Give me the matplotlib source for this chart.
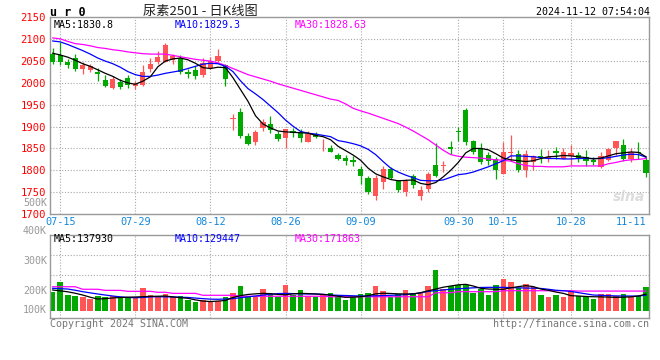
import matplotlib
matplotlib.use("Agg")
import matplotlib.pyplot as plt
import numpy as np

# trading days 2024-07-12 .. 2024-11-11, price data
opens = [2066, 2064, 2047, 2058, 2033, 2029, 2024, 2007, 1989, 2002,
         2011, 1993, 1996, 2033, 2049, 2049, 2053, 2057, 2025, 2030,
         2019, 2035, 2051, 2040, 1917, 1933, 1878, 1865, 1896, 1907,
         1884, 1873, 1890, 1886, 1865, 1882, 1864, 1850, 1835, 1828,
         1824, 1803, 1782, 1741, 1773, 1803, 1775, 1750, 1788, 1742,
         1757, 1812, 1810, 1853, 1890, 1939, 1867, 1852, 1835, 1827,
         1792, 1840, 1837, 1801, 1818, 1833, 1829, 1845, 1827, 1833,
         1835, 1830, 1824, 1808, 1824, 1850, 1858, 1827, 1843, 1823]
closes = [2047, 2049, 2040, 2033, 2040, 2039, 2020, 1992, 2010, 1990,
          1996, 1998, 2025, 2044, 2060, 2087, 2062, 2026, 2021, 2017,
          2046, 2051, 2062, 2010, 1920, 1879, 1860, 1888, 1910, 1892,
          1871, 1894, 1886, 1873, 1883, 1877, 1865, 1842, 1826, 1821,
          1818, 1786, 1750, 1782, 1803, 1782, 1756, 1775, 1766, 1756,
          1791, 1788, 1812, 1848, 1887, 1865, 1841, 1818, 1822, 1801,
          1842, 1842, 1800, 1837, 1832, 1831, 1831, 1840, 1842, 1840,
          1828, 1822, 1820, 1833, 1848, 1866, 1825, 1841, 1839, 1794]
highs = [2080, 2093, 2055, 2066, 2048, 2044, 2035, 2019, 2017, 2008,
         2019, 2004, 2040, 2057, 2072, 2091, 2067, 2064, 2033, 2038,
         2056, 2060, 2078, 2043, 1930, 1942, 1885, 1892, 1918, 1924,
         1889, 1895, 1896, 1895, 1889, 1888, 1871, 1858, 1839, 1834,
         1832, 1810, 1788, 1789, 1809, 1807, 1778, 1779, 1791, 1764,
         1797, 1862, 1822, 1868, 1898, 1942, 1870, 1862, 1841, 1830,
         1865, 1880, 1847, 1847, 1836, 1848, 1847, 1854, 1852, 1858,
         1841, 1847, 1831, 1841, 1852, 1867, 1871, 1852, 1865, 1830]
lows = [2043, 2040, 2034, 2028, 2020, 2026, 2005, 1991, 1987, 1986,
        1989, 1985, 1994, 2026, 2044, 2048, 2043, 2020, 2011, 2010,
        2013, 2032, 2048, 1992, 1892, 1873, 1858, 1859, 1890, 1886,
        1867, 1852, 1876, 1864, 1864, 1874, 1844, 1841, 1823, 1812,
        1810, 1769, 1745, 1731, 1757, 1779, 1750, 1741, 1760, 1733,
        1750, 1784, 1796, 1837, 1866, 1857, 1837, 1814, 1812, 1780,
        1792, 1822, 1797, 1784, 1800, 1816, 1818, 1827, 1825, 1812,
        1818, 1810, 1812, 1806, 1821, 1835, 1822, 1820, 1827, 1784]

ma5 = [2068, 2064, 2059, 2052, 2044, 2038, 2030, 2022, 2015, 2006,
       2000, 1997, 2004, 2014, 2037, 2050, 2055, 2057, 2053, 2045,
       2035, 2033, 2036, 2035, 2012, 1985, 1958, 1925, 1906, 1897,
       1890, 1888, 1887, 1886, 1885, 1880, 1877, 1870, 1855, 1845,
       1835, 1823, 1805, 1792, 1785, 1779, 1776, 1777, 1778, 1770,
       1767, 1772, 1785, 1800, 1818, 1840, 1850, 1850, 1847, 1838,
       1828, 1824, 1822, 1820, 1822, 1827, 1831, 1832, 1834, 1833,
       1831, 1829, 1826, 1828, 1833, 1838, 1840, 1842, 1841, 1831]
ma10 = [2096, 2094, 2088, 2081, 2074, 2066, 2057, 2050, 2044, 2036,
        2026, 2019, 2015, 2015, 2018, 2022, 2025, 2028, 2033, 2038,
        2043, 2045, 2044, 2038, 2026, 2005, 1987, 1975, 1962, 1947,
        1932, 1915, 1901, 1889, 1885, 1883, 1880, 1877, 1868, 1865,
        1861, 1856, 1848, 1836, 1820, 1805, 1796, 1789, 1783, 1777,
        1776, 1776, 1778, 1784, 1790, 1792, 1796, 1802, 1808, 1815,
        1822, 1833, 1833, 1832, 1831, 1829, 1827, 1827, 1826, 1826,
        1827, 1827, 1827, 1827, 1829, 1832, 1835, 1837, 1836, 1830]
ma30 = [2103, 2101, 2095, 2090, 2088, 2085, 2081, 2079, 2076, 2074,
        2071, 2069, 2067, 2066, 2066, 2066, 2063, 2060, 2057, 2054,
        2052, 2050, 2046, 2040, 2033, 2026, 2019, 2014, 2009, 2004,
        1998, 1993, 1988, 1983, 1978, 1973, 1968, 1963, 1960, 1952,
        1942, 1936, 1931, 1925, 1919, 1913, 1907, 1899, 1890, 1880,
        1870, 1858, 1846, 1836, 1832, 1830, 1829, 1828, 1826, 1824,
        1823, 1821, 1815, 1811, 1809, 1809, 1808, 1808, 1808, 1810,
        1810, 1810, 1810, 1810, 1815, 1818, 1822, 1824, 1825, 1827]

volume = [158, 241, 130, 125, 114, 97, 122, 111, 125, 111,
          111, 103, 188, 128, 116, 139, 111, 122, 89, 72,
          89, 78, 78, 116, 147, 205, 122, 116, 180, 139,
          116, 213, 130, 172, 122, 116, 128, 149, 111, 89,
          111, 139, 147, 205, 164, 116, 139, 172, 147, 144,
          205, 338, 178, 205, 211, 213, 149, 183, 130, 213,
          263, 238, 186, 222, 197, 130, 114, 130, 116, 164,
          122, 122, 97, 139, 139, 122, 139, 116, 122, 197]
vma5 = [172, 165, 157, 145, 130, 112, 97, 100, 106, 110,
        112, 114, 116, 119, 120, 122, 115, 108, 103, 90,
        80, 76, 80, 85, 110, 125, 135, 140, 144, 142,
        135, 132, 140, 144, 142, 139, 135, 130, 120, 111,
        113, 116, 125, 140, 145, 143, 140, 139, 139, 150,
        165, 180, 195, 205, 215, 219, 205, 186, 180, 178,
        178, 190, 200, 208, 200, 180, 170, 155, 144, 125,
        122, 118, 116, 115, 113, 111, 112, 115, 122, 138]
vma10 = [186, 183, 180, 170, 158, 148, 139, 130, 122, 115,
         110, 108, 110, 115, 116, 115, 114, 112, 110, 105,
         100, 96, 95, 97, 100, 108, 115, 122, 130, 136,
         142, 144, 142, 140, 139, 139, 136, 130, 128, 126,
         124, 122, 122, 124, 126, 128, 130, 133, 140, 148,
         161, 167, 172, 178, 182, 186, 190, 193, 194, 194,
         194, 192, 190, 188, 187, 185, 178, 170, 166, 160,
         150, 140, 130, 128, 125, 123, 122, 122, 122, 129]
vma30 = [199, 199, 199, 199, 178, 178, 178, 169, 169, 169,
         161, 161, 161, 161, 153, 153, 144, 144, 144, 144,
         128, 128, 128, 128, 128, 120, 120, 120, 120, 120,
         120, 120, 120, 120, 120, 120, 120, 116, 116, 116,
         116, 116, 116, 116, 116, 116, 116, 116, 116, 116,
         116, 149, 149, 149, 158, 158, 158, 158, 158, 158,
         166, 166, 166, 166, 166, 166, 166, 166, 166, 166,
         163, 163, 163, 163, 163, 163, 163, 163, 163, 163]

date_labels = ["07-15", "07-29", "08-12", "08-26", "09-09", "09-30", "10-15", "10-28", "11-11"]
date_index = [1, 11, 21, 31, 41, 54, 60, 69, 79]
price_ticks = [1700, 1750, 1800, 1850, 1900, 1950, 2000, 2050, 2100, 2150]

RED = "#ff5555"
GREEN = "#00a800"
GRID = "#a8a8a8"
MONO = "DejaVu Sans Mono"

W, H = 660, 360
def fx(x):
    return x / W
def fy(y):
    return 1 - y / H

o = np.array(opens, float)
c = np.array(closes, float)
hi = np.array(highs, float)
lo = np.array(lows, float)
x = np.arange(len(o))
up = c >= o
cols = np.where(up, RED, GREEN)

fig = plt.figure(figsize=(6.6, 3.6), dpi=100)
fig.patch.set_facecolor("white")

ax = fig.add_axes([fx(50), fy(214), 599.3 / W, 196.6 / H])
axv = fig.add_axes([fx(50), fy(318.3), 599.3 / W, 83.6 / H])

for a in (ax, axv):
    a.set_xlim(-0.36, 79.44)
    for s in a.spines.values():
        s.set_color("#999999")
        s.set_linewidth(1.0)
    for d in date_index[:-1]:
        a.axvline(d, color=GRID, lw=0.8, ls=(0, (1, 1.6)), zorder=0)

# price panel
ax.set_ylim(1700, 2150)
for p in price_ticks[1:-1]:
    ax.axhline(p, color=GRID, lw=0.8, ls=(0, (1, 1.6)), zorder=0)
ax.vlines(x, lo, hi, colors=cols, lw=0.9, zorder=2)
body = np.maximum(np.abs(c - o), 1.6)
ax.bar(x, body, bottom=np.minimum(o, c), width=0.7, color=cols, lw=0, zorder=3)
ax.plot(x, ma30, color="#ff00ff", lw=0.9, zorder=4)
ax.plot(x, ma10, color="#0000ff", lw=0.9, zorder=4)
ax.plot(x, ma5, color="black", lw=0.9, zorder=5)

ax.set_yticks(price_ticks)
ax.set_yticklabels([str(p) for p in price_ticks], family=MONO)
ax.tick_params(axis="y", length=0, pad=3, labelcolor="#ff0000", labelsize=7.6)
ax.set_xticks(date_index)
ax.set_xticklabels(date_labels, family=MONO)
ax.tick_params(axis="x", length=0, pad=2.5, labelcolor="#1188dd", labelsize=7.4)
ax.get_xticklabels()[-1].set_horizontalalignment("right")

# volume panel
vol = np.array(volume) * 1000
axv.set_ylim(-63000, 631000)
for g in (296000, 462000):
    axv.axhline(g, color=GRID, lw=0.8, ls=(0, (1, 1.6)), zorder=0)
axv.bar(x, vol, width=0.74, color=cols, lw=0, zorder=2)
axv.plot(x, np.array(vma30) * 1000, color="#ff00ff", lw=0.9, zorder=3)
axv.plot(x, np.array(vma10) * 1000, color="#0000ff", lw=0.9, zorder=3)
axv.plot(x, np.array(vma5) * 1000, color="black", lw=0.9, zorder=4)
axv.set_xticks([])
axv.set_yticks([])

# texts
fig.text(fx(50), fy(12), "u r 0", family=MONO, weight="bold", fontsize=8.5, va="center", ha="left")
fig.text(fx(200), fy(11), "尿素2501 - 日K线图", family=["Noto Sans CJK SC", "DejaVu Sans"],
         fontsize=9.5, color="#222222", va="center", ha="center")
fig.text(fx(649.5), fy(12), "2024-11-12 07:54:04", family=MONO, fontsize=7.2, va="center", ha="right")

fig.text(fx(54), fy(24.5), "MA5:1830.8", family=MONO, fontsize=7.2, color="black", va="center")
fig.text(fx(175), fy(24.5), "MA10:1829.3", family=MONO, fontsize=7.2, color="#0000ff", va="center")
fig.text(fx(295), fy(24.5), "MA30:1828.63", family=MONO, fontsize=7.2, color="#ff00ff", va="center")
fig.text(fx(54), fy(238.5), "MA5:137930", family=MONO, fontsize=7.2, color="black", va="center")
fig.text(fx(175), fy(238.5), "MA10:129447", family=MONO, fontsize=7.2, color="#0000ff", va="center")
fig.text(fx(295), fy(238.5), "MA30:171863", family=MONO, fontsize=7.2, color="#ff00ff", va="center")

for lab, yy in [("500K", 202.5), ("400K", 231), ("300K", 260.7), ("200K", 290.7), ("100K", 310.3)]:
    fig.text(fx(47), fy(yy), lab, family=MONO, fontsize=7.2, color="#999999", va="center", ha="right")

fig.text(fx(50), fy(324), "Copyright 2024 SINA.COM", family=MONO, fontsize=7.2, color="#777777",
         va="center", ha="left")
fig.text(fx(649.5), fy(324), "http://finance.sina.com.cn", family=MONO, fontsize=7.2, color="#777777",
         va="center", ha="right")
fig.text(fx(645), fy(197), "sina", family="DejaVu Sans", weight="bold", style="italic", fontsize=10,
         color="#dcdcdc", va="center", ha="right")

fig.savefig("out.png", dpi=100)
